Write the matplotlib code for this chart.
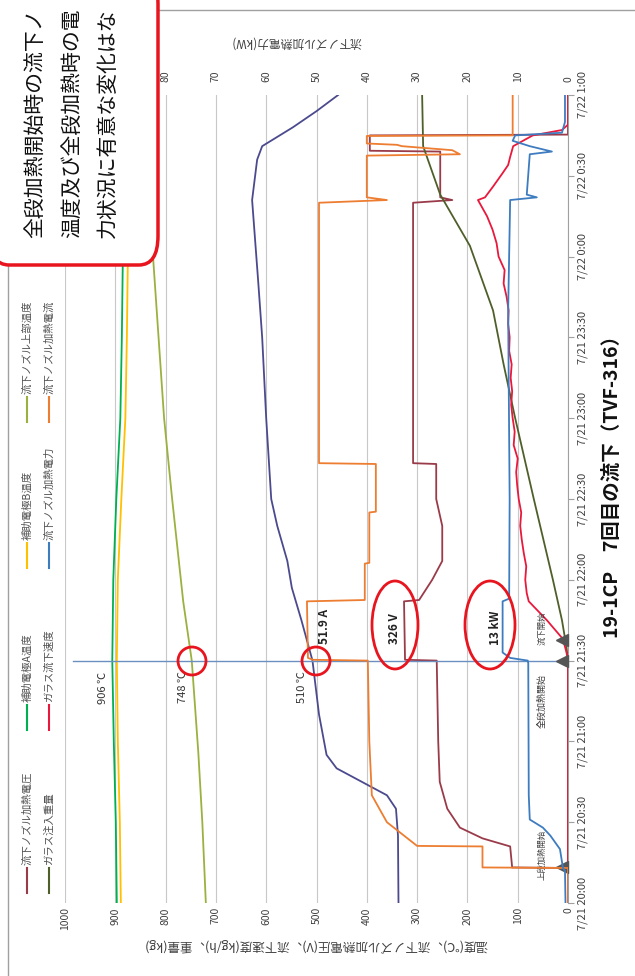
import matplotlib
matplotlib.use('Agg')
import matplotlib.pyplot as plt
from matplotlib.patches import Ellipse, FancyBboxPatch, Rectangle
from matplotlib.lines import Line2D

plt.rcParams['font.family'] = ['Noto Sans CJK JP', 'DejaVu Sans']

W, H = 635, 976

# ---------------- data (minutes after 7/21 20:00) ----------------
time_ticks = [0, 30, 60, 90, 120, 150, 180, 210, 240, 270, 300]
time_labels = ['7/21 20:00', '7/21 20:30', '7/21 21:00', '7/21 21:30', '7/21 22:00',
               '7/21 22:30', '7/21 23:00', '7/21 23:30', '7/22 0:00', '7/22 0:30', '7/22 1:00']
left_ticks = [0, 100, 200, 300, 400, 500, 600, 700, 800, 900, 1000]
right_ticks = [0, 10, 20, 30, 40, 50, 60, 70, 80]

legend_names = ['流下ノズル加熱電圧', 'ガラス注入重量', '補助電極A温度', 'ガラス流下速度',
                '補助電極B温度', '流下ノズル加熱電力', '流下ノズル上部温度', '流下ノズル加熱電流']

# auxiliary electrode A temperature (degC)
tA = [0, 30, 60, 90, 120, 150, 180, 210, 240, 270, 300]
vA = [897, 899, 903, 906, 904, 898, 890, 887, 885, 884, 883]
# auxiliary electrode B temperature (degC)
tB = [0, 30, 60, 90, 120, 150, 180, 210, 240, 270, 300]
vB = [889, 891, 895, 897, 895, 888, 880, 877, 875, 874, 873]
# nozzle upper temperature (degC)
tU = [0, 30, 56, 90, 112, 150, 180, 210, 240, 270, 300]
vU = [720, 727, 735, 748, 765, 787, 803, 814, 825, 835, 845]
# nozzle lower temperature (degC, purple)
tP = [0, 25, 35, 40, 45, 50, 55, 70, 90, 105, 117, 127, 140, 150, 180, 210, 231, 261, 276, 281, 288, 294, 300]
vP = [337, 338, 342, 360, 410, 460, 480, 495, 508, 530, 549, 558, 578, 590, 600, 608, 616, 628, 618, 608, 547, 500, 457]
# glass poured weight (kg)
tWt = [0, 90, 95, 105, 120, 150, 180, 200, 220, 244, 263, 281, 300]
vWt = [0, 0, 3, 12, 30, 68, 105, 128, 149, 195, 254, 288, 290]
# glass flow-down speed (kg/h)
tR = [0, 90, 93, 98, 105, 112, 115, 120, 125, 130, 135, 140, 145, 150, 155, 160, 165, 170, 175,
      180, 185, 190, 195, 200, 205, 210, 215, 220, 225, 230, 235, 240, 245, 250, 255, 261, 262,
      266, 271, 274, 277, 281, 285, 287, 289, 300]
vR = [0, 0, 3, 10, 42, 78, 82, 85, 83, 88, 92, 95, 93, 98, 101, 103, 100, 108, 106,
      110, 113, 111, 114, 112, 117, 116, 119, 118, 122, 128, 126, 138, 142, 150, 161, 179, 165,
      149, 130, 119, 115, 109, 70, 12, 0, 0]
# nozzle heating voltage (V)
tV = [0, 13, 13.2, 21, 24, 28, 35, 45, 60, 90, 90.3, 112, 112.5, 120, 127, 140, 150, 163, 163.3,
      260, 261, 262, 279, 279.3, 285, 285.3, 300]
vV = [0, 0, 111, 115, 170, 215, 240, 255, 258, 261, 324, 326, 296, 270, 250, 250, 262, 262, 308,
      308, 230, 254, 254, 394, 394, 0, 0]
# nozzle heating power (kW)
tKW = [0, 12, 13, 20, 25, 28, 31, 40, 89, 90, 91, 93, 112, 113, 150, 220, 261, 262, 263, 278, 279,
       281, 283, 285, 286, 290, 300]
vKW = [0.5, 0.6, 1.0, 1.6, 3.5, 5.0, 7.6, 7.8, 7.9, 8.0, 11.5, 13.0, 13.0, 11.7, 11.6, 11.9, 11.5,
       6.2, 8.2, 7.6, 3.2, 7.6, 11.0, 10.5, 1.2, 0.6, 0.6]
# nozzle heating current (A)
tI = [0, 13, 13.2, 21, 21.2, 30, 40, 60, 90, 90.3, 91, 112, 112.5, 126, 126.3, 145, 145.3, 163, 163.3,
      260, 261, 262, 277.5, 278, 279.5, 281, 281.5, 282, 284.8, 285, 300]
vI = [0, 0, 17, 17, 30, 36, 39, 39.5, 39.8, 50.7, 51.7, 51.9, 40.4, 40.4, 39.5, 39.5, 38.2, 38.2, 49.5,
      49.5, 36, 40, 40, 21.5, 23, 33, 34, 40, 40, 11, 11]

# event markers (minutes)
event_t = [13.5, 90, 97.5]
event_names = ['上段加熱開始', '全段加熱開始', '流下開始']

# callouts
ann_T = [906, 748, 510]
cursor_t = 90

# ---------------- colours ----------------
c_A = '#00B050'
c_B = '#FFC000'
c_U = '#9BB13F'
c_P = '#4B4A8E'
c_Wt = '#4F5F2A'
c_R = '#E8193C'
c_V = '#9A3B4A'
c_KW = '#3E7CC0'
c_I = '#ED7D31'

fig = plt.figure(figsize=(W / 100, H / 100), dpi=100)


def fx(x):
    return x / W


def fy(y):
    return 1 - y / H


ax = fig.add_axes([fx(65), fy(903), (568 - 65) / W, (903 - 95) / H])
ax.set_xlim(1000, 0)
ax.set_ylim(0, 300)
ax2 = ax.twiny()
ax2.set_xlim(100, 0)
ax2.set_ylim(0, 300)

for a in (ax, ax2):
    for s in a.spines.values():
        s.set_visible(False)
ax.spines['right'].set_visible(True)
ax.spines['right'].set_color('#A0A0A0')

for v in left_ticks:
    ax.axvline(v, color='#C8C8C8', lw=0.8, zorder=0)

ax.set_xticks(left_ticks)
ax.set_xticklabels([str(v) for v in left_ticks], rotation=90, fontsize=7.5, color='#404040')
ax.tick_params(axis='x', length=0, pad=3)
ax.yaxis.tick_right()
ax.set_yticks(time_ticks)
ax.set_yticklabels(time_labels, rotation=90, va='center', fontsize=8, color='#404040')
ax.tick_params(axis='y', length=4, color='#A0A0A0', pad=3)
ax2.set_xticks(right_ticks)
ax2.set_xticklabels([str(v) for v in right_ticks], rotation=90, fontsize=7.5, color='#404040')
ax2.tick_params(axis='x', length=0, pad=9)

lw = 1.3
ax.plot(vA, tA, color=c_A, lw=lw, zorder=3)
ax.plot(vB, tB, color=c_B, lw=lw, zorder=3)
ax.plot(vU, tU, color=c_U, lw=lw, zorder=3)
ax.plot(vP, tP, color=c_P, lw=lw, zorder=3)
ax.plot(vV, tV, color=c_V, lw=lw, zorder=3)
ax.plot(vWt, tWt, color=c_Wt, lw=lw, zorder=3)
ax.plot(vR, tR, color=c_R, lw=lw, zorder=4)
ax2.plot(vI, tI, color=c_I, lw=lw, zorder=3)
ax2.plot(vKW, tKW, color=c_KW, lw=lw, zorder=3)

# cursor line at 21:30
ax.plot([985, 0], [cursor_t, cursor_t], color='#6A8FC0', lw=1.0, zorder=5)

# event triangles
for t in event_t:
    ax.plot([12], [t], marker='<', ms=9, color='#555555', zorder=6, clip_on=False)
ax.text(52, 17.8, event_names[0], rotation=90, fontsize=6, color='#404040',
        ha='center', va='center', zorder=6)
ax.text(52, 75, event_names[1], rotation=90, fontsize=6.5, color='#404040',
        ha='center', va='center', zorder=6)
ax.text(52, 102, event_names[2], rotation=90, fontsize=6, color='#404040',
        ha='center', va='center', zorder=6)

# temperature annotations
for T in ann_T:
    ax.text(T + 18, cursor_t - 4, f'{T} ℃', rotation=90, fontsize=8, color='#333333',
            ha='center', va='top', zorder=6)
ax2.text(48.5, 96, '51.9 A', rotation=90, fontsize=8.5, color='#222222',
         ha='center', va='bottom', zorder=6, fontweight='bold')
ax.text(345, 102, '326 V', rotation=90, fontsize=8.5, color='#222222',
        ha='center', va='center', zorder=6, fontweight='bold')
ax2.text(14.5, 102, '13 kW', rotation=90, fontsize=8.5, color='#222222',
         ha='center', va='center', zorder=6, fontweight='bold')

red = '#E8141E'
for (cx, cy, w, h) in [(192, 661, 28, 28), (316, 661, 28, 28), (395, 625, 46, 88), (490, 625, 50, 88)]:
    e = Ellipse((fx(cx), fy(cy)), w / W, h / H, transform=fig.transFigure, fill=False,
                edgecolor=red, lw=2.0, zorder=10)
    fig.add_artist(e)

# chart border
fig.add_artist(Rectangle((fx(8), fy(1000)), (700) / W, (1000 - 10) / H, transform=fig.transFigure,
                         fill=False, edgecolor='#A0A0A0', lw=1.0))

# axis titles
fig.text(fx(316), fy(945), '温度(℃)、流下ノズル加熱電圧(V)、流下速度(kg/h)、重量(kg)', rotation=180,
         ha='center', va='center', fontsize=9, color='#404040')
fig.text(fx(296), fy(42), '流下ノズル加熱電力(kW)', rotation=180, ha='center', va='center',
         fontsize=8.5, color='#404040')

# title
fig.text(fx(612), fy(482), '19-1CP　7回目の流下（TVF-316）', rotation=90, ha='center', va='center',
         fontsize=14, fontweight='bold', color='#111111')

# legend
leg_colors = [c_V, c_Wt, c_A, c_R, c_B, c_KW, c_U, c_I]
leg_x = [27, 49]
leg_y = [893, 730, 568, 422]
for i, (name, col) in enumerate(zip(legend_names, leg_colors)):
    x = leg_x[i % 2]
    y0 = leg_y[i // 2]
    fig.add_artist(Line2D([fx(x), fx(x)], [fy(y0), fy(y0 - 25)], transform=fig.transFigure,
                          color=col, lw=1.5))
    fig.text(fx(x), fy(y0 - 28), name, rotation=90, rotation_mode='anchor', ha='left', va='center',
             fontsize=7.5, color='#505050')

# callout box
box = FancyBboxPatch((fx(-10), fy(265)), (168) / W, (290) / H, boxstyle='round,pad=0,rounding_size=0.03',
                     transform=fig.transFigure, facecolor='white', edgecolor=red, lw=2.5, zorder=20)
fig.add_artist(box)
call_lines = ['全段加熱開始時の流下ノ', '温度及び全段加熱時の電', '力状況に有意な変化はな']
for x, s in zip([35, 72, 108], call_lines):
    fig.text(fx(x), fy(238), s, rotation=90, rotation_mode='anchor', ha='left', va='center',
             fontsize=15, color='#111111', zorder=21)

fig.savefig('out.png', dpi=100)
